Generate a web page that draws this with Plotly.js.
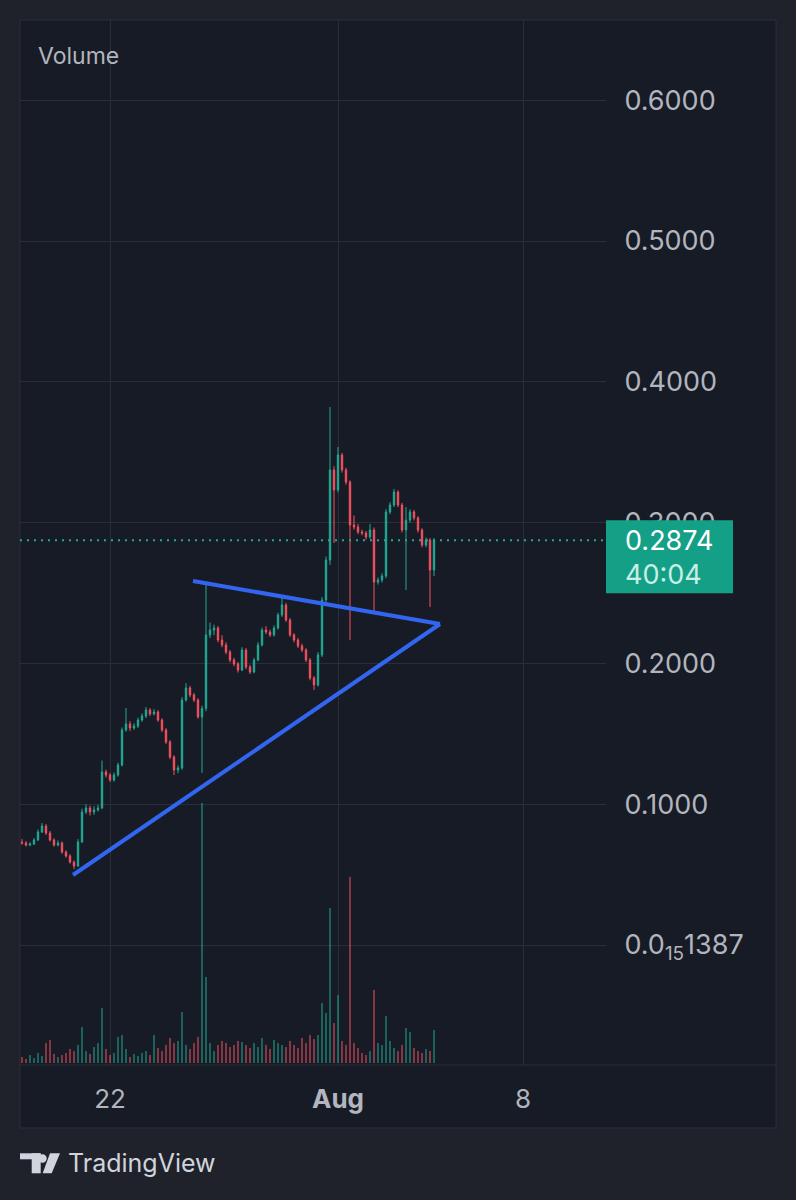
<!DOCTYPE html>
<html>
<head>
<meta charset="utf-8">
<script src="https://cdn.plot.ly/plotly-3.0.1.min.js"></script>
<style>
  html, body { margin: 0; padding: 0; background: #1f222b; }
  #chart { width: 796px; height: 1200px; }
</style>
</head>
<body>
<div id="chart"></div>
<script>
// ---- data (bar index axis, one bar per slot) ----
const open = [0.0730,0.0724,0.0710,0.0717,0.0746,0.0803,0.0845,0.0795,0.0746,0.0710,
  0.0724,0.0660,0.0632,0.0589,0.0561,0.0732,0.0945,0.0973,0.0945,0.0959,
  0.0973,0.1229,0.1207,0.1172,0.1207,0.1278,0.1527,0.1570,0.1541,0.1555,
  0.1598,0.1626,0.1669,0.1641,0.1655,0.1598,0.1527,0.1442,0.1335,0.1243,
  0.1257,0.1740,0.1825,0.1776,0.1740,0.1620,0.1680,0.2202,0.2237,0.2251,
  0.2166,0.2131,0.2081,0.2024,0.1996,0.1953,0.2095,0.1974,0.1939,0.2024,
  0.2131,0.2237,0.2223,0.2202,0.2251,0.2344,0.2415,0.2308,0.2202,0.2166,
  0.2124,0.2095,0.2024,0.1896,0.1847,0.2060,0.2450,0.2734,0.3374,0.3232,
  0.3480,0.3374,0.3288,0.2983,0.2969,0.2933,0.2926,0.2898,0.2947,0.2578,
  0.2592,0.2621,0.3075,0.3125,0.3217,0.3125,0.2947,0.3018,0.3075,0.3033,
  0.2947,0.2841,0.2876,0.2663];
const high = [0.0752,0.0738,0.0730,0.0760,0.0820,0.0866,0.0858,0.0810,0.0758,0.0742,
  0.0735,0.0672,0.0645,0.0600,0.0752,0.0968,0.1000,0.0990,0.0985,0.0995,
  0.1310,0.1245,0.1222,0.1225,0.1295,0.1545,0.1683,0.1590,0.1575,0.1615,
  0.1645,0.1690,0.1682,0.1675,0.1668,0.1610,0.1540,0.1455,0.1348,0.1275,
  0.1760,0.1860,0.1840,0.1790,0.1752,0.1700,0.2557,0.2290,0.2275,0.2265,
  0.2200,0.2150,0.2095,0.2040,0.2010,0.2115,0.2108,0.1990,0.2040,0.2150,
  0.2255,0.2265,0.2240,0.2270,0.2360,0.2472,0.2430,0.2322,0.2215,0.2180,
  0.2140,0.2108,0.2038,0.1910,0.2080,0.2470,0.2760,0.3821,0.3400,0.3537,
  0.3495,0.3390,0.3300,0.3050,0.2990,0.2950,0.2940,0.2990,0.2965,0.2610,
  0.2640,0.3095,0.3145,0.3239,0.3230,0.3140,0.3110,0.3095,0.3090,0.3045,
  0.2960,0.2895,0.2890,0.2890];
const low = [0.0712,0.0700,0.0702,0.0710,0.0738,0.0795,0.0782,0.0735,0.0698,0.0700,
  0.0648,0.0620,0.0578,0.0540,0.0555,0.0725,0.0930,0.0920,0.0925,0.0948,
  0.0965,0.1190,0.1158,0.1160,0.1195,0.1268,0.1515,0.1520,0.1528,0.1540,
  0.1585,0.1612,0.1625,0.1630,0.1585,0.1512,0.1428,0.1320,0.1207,0.1220,
  0.1245,0.1728,0.1760,0.1725,0.1608,0.1222,0.1660,0.2180,0.2200,0.2150,
  0.2115,0.2065,0.2008,0.1980,0.1935,0.1945,0.1958,0.1925,0.1930,0.2015,
  0.2120,0.2208,0.2188,0.2190,0.2240,0.2330,0.2295,0.2188,0.2150,0.2110,
  0.2080,0.2010,0.1880,0.1811,0.1835,0.2045,0.2430,0.2700,0.2855,0.3215,
  0.3355,0.3270,0.2166,0.2950,0.2918,0.2910,0.2880,0.2885,0.2358,0.2560,
  0.2575,0.2605,0.3060,0.3110,0.3110,0.2930,0.2521,0.3000,0.3015,0.2930,
  0.2825,0.2825,0.2401,0.2620];
const close = [0.0724,0.0710,0.0717,0.0746,0.0803,0.0845,0.0795,0.0746,0.0710,0.0724,
  0.0660,0.0632,0.0589,0.0561,0.0732,0.0945,0.0973,0.0945,0.0959,0.0973,
  0.1229,0.1207,0.1172,0.1207,0.1278,0.1527,0.1570,0.1541,0.1555,0.1598,
  0.1626,0.1669,0.1641,0.1655,0.1598,0.1527,0.1442,0.1335,0.1243,0.1257,
  0.1740,0.1825,0.1776,0.1740,0.1620,0.1680,0.2202,0.2237,0.2251,0.2166,
  0.2131,0.2081,0.2024,0.1996,0.1953,0.2095,0.1974,0.1939,0.2024,0.2131,
  0.2237,0.2223,0.2202,0.2251,0.2344,0.2415,0.2308,0.2202,0.2166,0.2124,
  0.2095,0.2024,0.1896,0.1847,0.2060,0.2450,0.2734,0.3374,0.3232,0.3480,
  0.3374,0.3288,0.2983,0.2969,0.2933,0.2926,0.2898,0.2947,0.2578,0.2592,
  0.2621,0.3075,0.3125,0.3217,0.3125,0.2947,0.3018,0.3075,0.3033,0.2947,
  0.2841,0.2876,0.2663,0.2874];
const volume = [6,4,8,5,10,7,20,23,9,6,
  8,10,14,12,18,36,12,9,16,20,
  55,14,8,10,26,28,14,6,9,7,
  10,12,8,28,15,12,18,25,20,22,
  51,18,14,20,26,260,86,20,12,18,
  22,20,16,18,22,21,18,15,20,16,
  25,18,14,23,20,18,16,22,18,15,
  25,20,28,24,28,60,50,155,40,68,
  22,18,186,20,15,10,8,12,73,20,
  18,47,22,15,12,18,35,31,15,12,
  10,14,12,33];

const tickBars = [22, 79, 125.25];
const tickLabels = ['22', '<b>Aug</b>', '8'];
const priceTicks = [0, 0.1, 0.2, 0.3, 0.4, 0.5, 0.6];
const priceTickLabels = ['0.0<sub>15</sub>1387', '0.1000', '0.2000', '0.3000', '0.4000', '0.5000', '0.6000'];
const lastPrice = 0.2874;
const countdown = '40:04';
// hand-drawn trendlines (bar index, price)
const supportX = [12.75, 104.5];
const supportY = [0.0497, 0.2280];
const resistX = [42.75, 104.5];
const resistY = [0.2585, 0.2280];

// ---- styling ----
const UP = '#22ab94', DOWN = '#f7525f';
const UPV = 'rgba(34,171,148,0.5)', DOWNV = 'rgba(247,82,95,0.5)';
const FONT = 'Inter, Roboto, "Noto Sans", sans-serif';
const W = 796, H = 1200, L = 20, R = 190, T = 20, B = 135;
const pw = W - L - R, ph = H - T - B;
const PX = p => (p - L) / pw;          // page px -> paper x
const PY = p => (H - B - p) / ph;      // page py -> paper y

const idx = close.map((_, i) => i);
const volColors = close.map((c, i) => c >= open[i] ? UPV : DOWNV);

const traces = [
  { type: 'bar', x: idx, y: volume, yaxis: 'y2', width: 0.5,
    marker: { color: volColors, line: { width: 0 } }, hoverinfo: 'skip' },
  { type: 'candlestick', x: idx, open: open, high: high, low: low, close: close,
    increasing: { line: { color: UP, width: 1 }, fillcolor: UP },
    decreasing: { line: { color: DOWN, width: 1 }, fillcolor: DOWN },
    whiskerwidth: 0, hoverinfo: 'skip' },
  { type: 'scatter', mode: 'lines', x: supportX, y: supportY,
    line: { color: '#3366f0', width: 4 }, hoverinfo: 'skip' },
  { type: 'scatter', mode: 'lines', x: resistX, y: resistY,
    line: { color: '#3366f0', width: 4 }, hoverinfo: 'skip' }
];

const logo = '#d1d4dc';
const layout = {
  width: W, height: H,
  margin: { l: L, r: R, t: T, b: B, pad: 0 },
  paper_bgcolor: '#1f222b',
  plot_bgcolor: 'rgba(0,0,0,0)',
  showlegend: false,
  boxgap: 0.5,
  font: { family: FONT, color: '#b2b5be' },
  xaxis: {
    range: [-0.5, 146], rangeslider: { visible: false },
    tickmode: 'array', tickvals: tickBars, ticktext: tickLabels,
    tickfont: { size: 26, color: '#b2b5be' },
    ticks: 'outside', ticklen: 11, tickcolor: 'rgba(0,0,0,0)',
    showgrid: true, gridcolor: '#2a2e3a', gridwidth: 1,
    zeroline: false, showline: false, fixedrange: true
  },
  yaxis: {
    side: 'right',
    range: [(945 - 1065) / 1408, (945 - 20) / 1408],
    tickmode: 'array', tickvals: priceTicks, ticktext: priceTickLabels,
    tickfont: { size: 27, color: '#b2b5be' },
    ticks: 'outside', ticklen: 12, tickcolor: 'rgba(0,0,0,0)',
    showgrid: true, gridcolor: '#2a2e3a', gridwidth: 1,
    zeroline: false, showline: false, fixedrange: true
  },
  yaxis2: {
    overlaying: 'y', range: [-2, 1043], visible: false, fixedrange: true
  },
  shapes: [
    { type: 'rect', xref: 'paper', yref: 'paper', layer: 'below',
      x0: PX(20), x1: PX(776), y0: PY(1128), y1: PY(20),
      fillcolor: '#171b26', line: { color: '#2a2e39', width: 1 } },
    { type: 'line', xref: 'paper', yref: 'paper', layer: 'below',
      x0: PX(20), x1: PX(776), y0: PY(1065), y1: PY(1065),
      line: { color: '#2a2e39', width: 1 } },
    { type: 'line', xref: 'paper', yref: 'y', x0: 0, x1: 1, y0: lastPrice, y1: lastPrice,
      line: { color: UP, width: 2, dash: '2px,5px' } },
    { type: 'rect', xref: 'paper', yref: 'y', layer: 'above',
      x0: PX(606), x1: PX(733), y0: lastPrice - 53 / 1408, y1: lastPrice + 20 / 1408,
      fillcolor: '#14a086', line: { width: 0 } },
    // TradingView logo
    { type: 'rect', xref: 'paper', yref: 'paper', x0: PX(20), x1: PX(40.7), y0: PY(1159.3), y1: PY(1153.3),
      fillcolor: logo, line: { width: 0 } },
    { type: 'rect', xref: 'paper', yref: 'paper', x0: PX(31.7), x1: PX(40.7), y0: PY(1173.3), y1: PY(1153.3),
      fillcolor: logo, line: { width: 0 } },
    { type: 'circle', xref: 'paper', yref: 'paper', x0: PX(38.3), x1: PX(46.7), y0: PY(1162.7), y1: PY(1154.3),
      fillcolor: logo, line: { width: 0 } },
    { type: 'path', xref: 'paper', yref: 'paper',
      path: `M ${PX(50)} ${PY(1153.3)} L ${PX(60)} ${PY(1153.3)} L ${PX(51.7)} ${PY(1173.3)} L ${PX(42.7)} ${PY(1173.3)} Z`,
      fillcolor: logo, line: { width: 0 } }
  ],
  annotations: [
    { text: 'Volume', xref: 'paper', yref: 'paper', x: PX(36), y: PY(56),
      xanchor: 'left', yanchor: 'middle', showarrow: false,
      font: { size: 23, color: '#b2b5be', family: FONT } },
    { text: lastPrice.toFixed(4), xref: 'paper', yref: 'y', x: PX(623), y: lastPrice,
      xanchor: 'left', yanchor: 'middle', showarrow: false,
      font: { size: 27, color: '#ffffff', family: FONT } },
    { text: countdown, xref: 'paper', yref: 'y', x: PX(623), y: lastPrice - 34 / 1408,
      xanchor: 'left', yanchor: 'middle', showarrow: false,
      font: { size: 27, color: '#c9eee6', family: FONT } },
    { text: 'TradingView', xref: 'paper', yref: 'paper', x: PX(66), y: PY(1163),
      xanchor: 'left', yanchor: 'middle', showarrow: false,
      font: { size: 25, color: logo, family: FONT } }
  ]
};

Plotly.newPlot('chart', traces, layout, { displayModeBar: false, staticPlot: true });
</script>
</body>
</html>
